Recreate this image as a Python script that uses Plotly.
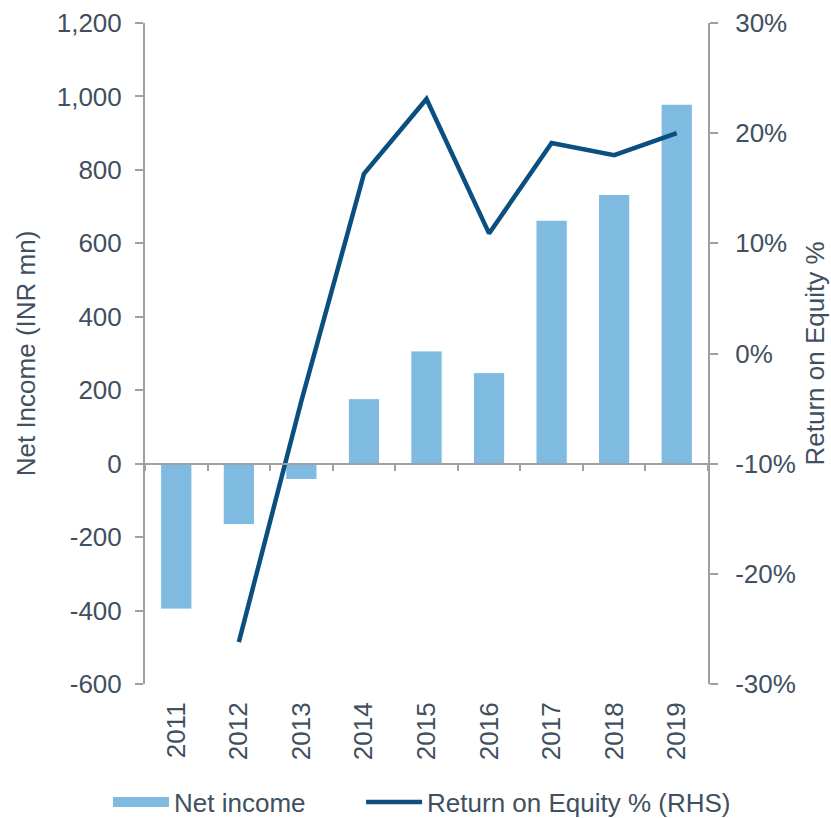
import plotly.graph_objects as go

years = ["2011", "2012", "2013", "2014", "2015", "2016", "2017", "2018", "2019"]
net_income = [-396, -166, -43, 177, 307, 248, 663, 733, 979]
roe_years = ["2012", "2013", "2014", "2015", "2016", "2017", "2018", "2019"]
roe_pct = [-26.2, -4.3, 16.3, 23.1, 10.9, 19.1, 18.0, 20.0]

left_ticks = [-600, -400, -200, 0, 200, 400, 600, 800, 1000, 1200]
right_ticks = [-30, -20, -10, 0, 10, 20, 30]

BAR = "#7FBBE1"
LINE = "#0B4F80"
TXT = "#3F5060"
AX = "#A0A0A0"
FONT = "Liberation Sans, Arial, sans-serif"
FS = 26
PAD = "\u00a0" * 7

fig = go.Figure()
fig.add_trace(go.Bar(
    x=years, y=net_income, name="Net income",
    marker=dict(color=BAR, line=dict(color="white", width=1)),
    xaxis="x", yaxis="y", showlegend=False,
))
# legend proxy for the bar series (wide swatch like the original)
fig.add_trace(go.Scatter(
    x=[None], y=[None], name="Net income" + PAD, mode="lines",
    line=dict(color=BAR, width=14), xaxis="x", yaxis="y",
))
fig.add_trace(go.Scatter(
    x=roe_years, y=roe_pct, name="Return on Equity % (RHS)", mode="lines",
    line=dict(color=LINE, width=4.5),
    xaxis="x2", yaxis="y2",
))

fig.update_layout(
    width=831, height=818,
    margin=dict(l=145, r=123, t=23, b=134, autoexpand=False),
    paper_bgcolor="white", plot_bgcolor="white",
    font=dict(family=FONT, size=FS, color=TXT),
    bargap=0.5,
    showlegend=True,
    legend=dict(orientation="h",
                x=-0.0657, xanchor="left", y=-0.1785, yanchor="middle",
                font=dict(size=FS, color=TXT), itemwidth=56, tracegroupgap=0,
                bgcolor="rgba(0,0,0,0)"),
    xaxis=dict(
        type="category", categoryorder="array", categoryarray=years,
        range=[-0.5, 8.5], showgrid=False, showline=False, zeroline=False,
        ticks="outside", ticklen=7, tickcolor="rgba(0,0,0,0)", automargin=False,
        tickangle=-90, tickfont=dict(size=FS, color=TXT),
    ),
    xaxis2=dict(
        type="category", categoryorder="array", categoryarray=years,
        range=[-0.5, 8.5], overlaying="x", anchor="free", position=1/3,
        showgrid=False, showline=True, linecolor=AX, linewidth=2, zeroline=False,
        ticks="outside", ticklen=6, tickwidth=2, tickcolor=AX, tickson="boundaries",
        showticklabels=False, automargin=False,
    ),
    yaxis=dict(
        range=[-600, 1200], tickvals=left_ticks,
        ticktext=[f"{v:,}" for v in left_ticks], automargin=False,
        showgrid=False, zeroline=False, showline=True, linecolor=AX, linewidth=2,
        ticks="outside", ticklen=8, tickwidth=2, tickcolor=AX, ticklabelstandoff=8,
        title=dict(text="Net Income (INR mn)", font=dict(size=FS, color=TXT), standoff=14),
    ),
    yaxis2=dict(
        range=[-30, 30], tickvals=right_ticks,
        ticktext=[f"{v}%" for v in right_ticks], automargin=False,
        overlaying="y", side="right", anchor="x",
        showgrid=False, zeroline=False, showline=True, linecolor=AX, linewidth=2,
        ticks="outside", ticklen=8, tickwidth=2, tickcolor=AX, ticklabelstandoff=12,
        title=dict(text="Return on Equity %", font=dict(size=FS, color=TXT), standoff=11),
    ),
)

fig.write_html("out.html", config={"displayModeBar": False},
               post_script="document.body.style.margin='0';")
